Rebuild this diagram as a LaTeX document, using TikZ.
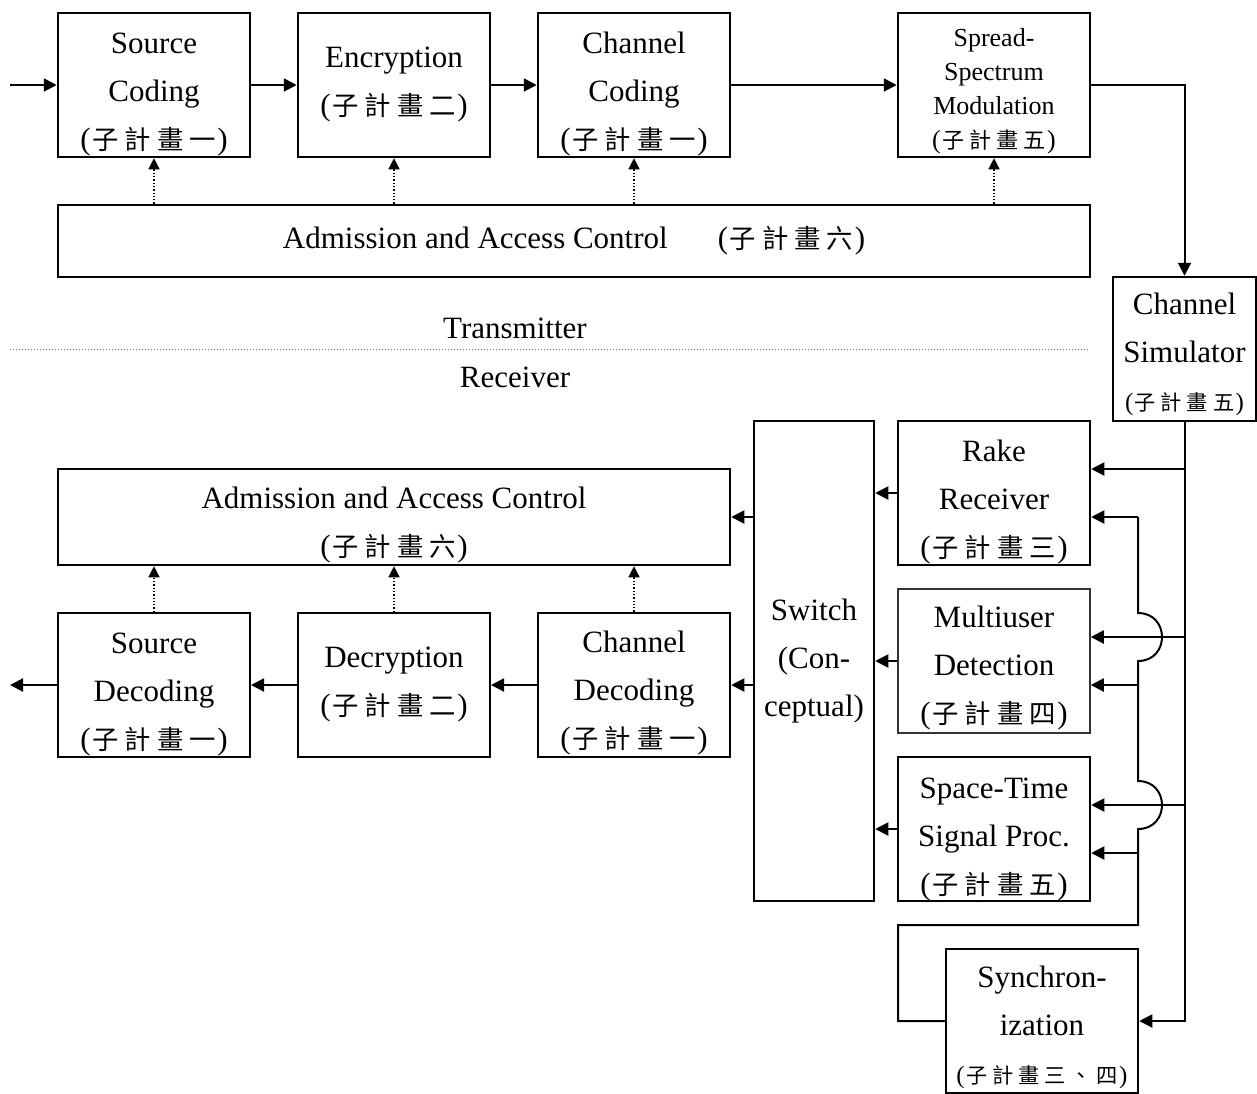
\documentclass[tikz,border=0pt]{standalone}
\usepackage{fontspec}
\setmainfont{Liberation Serif}
\newfontfamily\cjk[Scale=0.85]{Noto Sans CJK TC}
\usetikzlibrary{arrows.meta}
\newcommand\zg{\hspace{0.23em}}
\newcommand\zh[1]{(\hspace{0.05em}{\cjk #1}\hspace{0.05em})}
\newcommand\up[1]{\rule{0pt}{#1pt}}
\newcommand\bigf{\fontsize{31}{48}\selectfont}
\newcommand\midf{\fontsize{26}{34}\selectfont}
\newcommand\smlf{\fontsize{25}{30}\selectfont}
\tikzset{
  blk/.style={draw, line width=2.5pt, rectangle, inner sep=0pt, align=center,
    font=\bigf, minimum width=192pt, minimum height=144pt},
  arr/.style={draw, line width=2pt, -{Triangle[length=13pt,width=13pt]}},
  ln/.style={draw, line width=2pt},
  dotarr/.style={draw, line width=1.3pt, dotted, -{Triangle[length=11pt,width=11pt]}},
}
\begin{document}
\begin{tikzpicture}[x=1pt,y=-1pt]
\useasboundingbox (0,0) rectangle (1257,1093);
% ---------- transmitter ----------
\node[blk] (sc) at (154,85) {\up{39}Source\\Coding\\\zh{子\zg 計\zg 畫\zg 一}};
\node[blk] (enc) at (394,85) {Encryption\\\zh{子\zg 計\zg 畫\zg 二}};
\node[blk] (cc) at (634,85) {\up{39}Channel\\Coding\\\zh{子\zg 計\zg 畫\zg 一}};
\node[blk, font=\midf] (ss) at (994,85) {\up{30}Spread-\\Spectrum\\Modulation\\\zh{子\zg 計\zg 畫\zg 五}};
\node[blk, minimum width=1032pt, minimum height=72pt] (adm1) at (574,241)
  {Admission and Access Control\hspace{50pt}\zh{子\zg 計\zg 畫\zg 六}};
\node[blk, minimum width=143pt] (cs) at (1184.5,349) {\up{33}Channel\\Simulator\\{\smlf\zh{子\zg 計\zg 畫\zg 五}}};
\coordinate (in) at (10,85);
\draw[arr] (in) -- (sc.west);
\draw[arr] (sc.east) -- (enc.west);
\draw[arr] (enc.east) -- (cc.west);
\draw[arr] (cc.east) -- (ss.west);
\draw[arr] (ss.east) -| (cs.north);
\foreach \b in {sc,enc,cc,ss}{
  \draw[dotarr] (\b.south |- adm1.north) -- (\b.south);
}
% ---------- separator ----------
\node[font=\bigf] (tx) at (515,328) {Transmitter};
\node[font=\bigf] (rx) at (515,377) {Receiver};
\coordinate (sepl) at (10,349);
\coordinate (sepr) at (1090,349);
\draw[line width=1pt, dotted, black!60] (sepl) -- (sepr);
% ---------- receiver ----------
\node[blk, minimum width=672pt, minimum height=96pt] (adm2) at (394,517)
  {\up{37}Admission and Access Control\\\zh{子\zg 計\zg 畫\zg 六}};
\node[blk, line width=2pt] (sd) at (154,685) {\up{39}Source\\Decoding\\\zh{子\zg 計\zg 畫\zg 一}};
\node[blk, line width=2pt] (dec) at (394,685) {Decryption\\\zh{子\zg 計\zg 畫\zg 二}};
\node[blk] (cd) at (634,685) {\up{38}Channel\\Decoding\\\zh{子\zg 計\zg 畫\zg 一}};
\node[blk, minimum width=120pt, minimum height=480pt] (sw) at (814,661) {Switch\\(Con-\\ceptual)};
\node[blk] (rk) at (994,493) {\up{40}Rake\\Receiver\\\zh{子\zg 計\zg 畫\zg 三}};
\node[blk, line width=1.5pt, draw=black!80] (mu) at (994,661) {\up{35}Multiuser\\Detection\\\zh{子\zg 計\zg 畫\zg 四}};
\node[blk] (st) at (994,829) {\up{41}Space-Time\\Signal Proc.\\\zh{子\zg 計\zg 畫\zg 五}};
\node[blk] (sy) at (1042,1021) {\up{35}Synchron-\\ization\\{\smlf\zh{子\zg 計\zg 畫\zg 三\zg 、\zg 四}}};
% receiver to decoding chain
\draw[arr] (rk.west) -- (rk.west -| sw.east);
\draw[arr] (mu.west) -- (mu.west -| sw.east);
\draw[arr] (st.west) -- (st.west -| sw.east);
\draw[arr] (sw.west |- adm2.east) -- (adm2.east);
\draw[arr] (sw.west |- cd.east) -- (cd.east);
\draw[arr] (cd.west) -- (dec.east);
\draw[arr] (dec.west) -- (sd.east);
\coordinate (out) at (10,685);
\draw[arr] (sd.west) -- (out);
\foreach \b in {sd,dec,cd}{
  \draw[dotarr] (\b.north) -- (\b.north |- adm2.south);
}
% channel simulator trunk
\coordinate (t1) at (1184.5,469);
\coordinate (t2) at (1184.5,637);
\coordinate (t3) at (1184.5,805);
\draw[arr] (cs.south) |- (sy.east);
\draw[arr] (t1) -- (t1 -| rk.east);
\draw[arr] (t2) -- (t2 -| mu.east);
\draw[arr] (t3) -- (t3 -| st.east);
% synchronization feedback loop with jumps
\coordinate (s1) at (1138,517);
\coordinate (s2) at (1138,685);
\coordinate (s3) at (1138,853);
\coordinate (lp) at (898,925);
\draw[ln, line join=miter] (sy.west) -- (sy.west -| lp) -- (lp) -- (1138,925) -- (1138,829)
  .. controls (1170,829) and (1170,781) .. (1138,781) -- (1138,661)
  .. controls (1170,661) and (1170,613) .. (1138,613) -- (s1);
\draw[arr] (s1) -- (s1 -| rk.east);
\draw[arr] (s2) -- (s2 -| mu.east);
\draw[arr] (s3) -- (s3 -| st.east);
\end{tikzpicture}
\end{document}
